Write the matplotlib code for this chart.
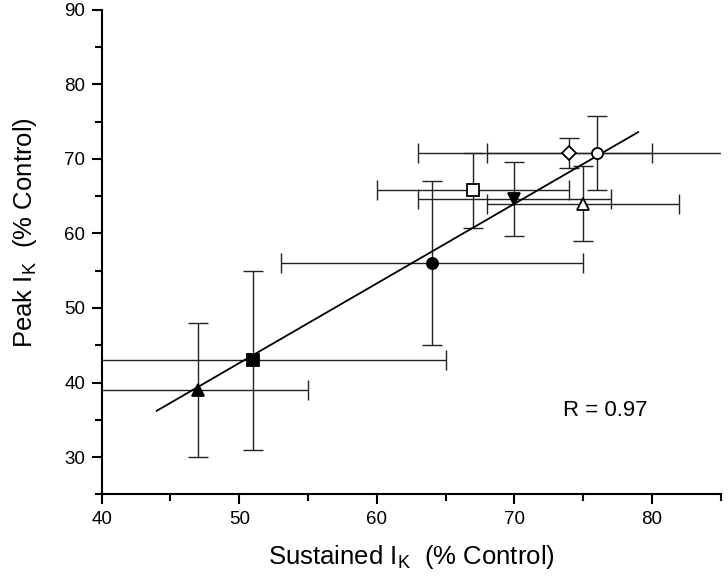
import matplotlib
matplotlib.use("Agg")
import matplotlib.pyplot as plt
from matplotlib.ticker import MultipleLocator

plt.rcParams['font.family'] = ['Liberation Sans', 'DejaVu Sans']
plt.rcParams['mathtext.default'] = 'regular'

# Sustained vs peak I_K, one point per condition
sustained = [47, 51, 64, 67, 70, 75, 74, 76]
peak = [39, 43, 56, 65.8, 64.6, 64.0, 70.8, 70.8]
sustained_err = [8, 14, 11, 7, 7, 7, 6, 13]
peak_err = [9, 12, 11, 5, 5, 5, 2, 5]
markers = ['^', 's', 'o', 's', 'v', '^', 'D', 'o']
filled = [True, True, True, False, True, False, False, False]

# regression line end points
fit_x = [44.0, 79.0]
fit_y = [36.2, 73.6]
r_value = 0.97

fig = plt.figure(figsize=(7.28, 5.82), dpi=100)
ax = fig.add_axes([0.1397, 0.1507, 0.8503, 0.8323])

for x, y, xe, ye, m, f in zip(sustained, peak, sustained_err, peak_err, markers, filled):
    ms = 7 if m == 'D' else 8
    ax.errorbar(x, y, xerr=xe, yerr=ye, fmt='none', ecolor='#222222',
                elinewidth=1.0, capsize=7, capthick=1.0, zorder=2)
    ax.plot(x, y, marker=m, markersize=ms, linestyle='none',
            markerfacecolor='black' if f else 'white',
            markeredgecolor='black', markeredgewidth=1.3, zorder=4)

ax.plot(fit_x, fit_y, color='black', linewidth=1.3, zorder=3)

ax.text(73.5, 36.3, f'R = {r_value}', fontsize=16, va='center', ha='left')

ax.set_xlim(40, 85)
ax.set_ylim(25, 90)
ax.xaxis.set_major_locator(MultipleLocator(10))
ax.xaxis.set_minor_locator(MultipleLocator(5))
ax.yaxis.set_major_locator(MultipleLocator(10))
ax.yaxis.set_minor_locator(MultipleLocator(5))
ax.set_yticks([30, 40, 50, 60, 70, 80, 90])

ax.spines['top'].set_visible(False)
ax.spines['right'].set_visible(False)
for s in ('left', 'bottom'):
    ax.spines[s].set_linewidth(1.5)

ax.tick_params(which='major', direction='out', length=7, width=1.5, labelsize=13.5, pad=5)
ax.tick_params(which='minor', direction='out', length=5, width=1.5)

ax.set_xlabel('Sustained I$_{K}$  (% Control)', fontsize=18.5, labelpad=11)
ax.set_ylabel('Peak I$_{K}$  (% Control)', fontsize=18.5, labelpad=18, y=0.54)

fig.savefig('out.png', dpi=100)
